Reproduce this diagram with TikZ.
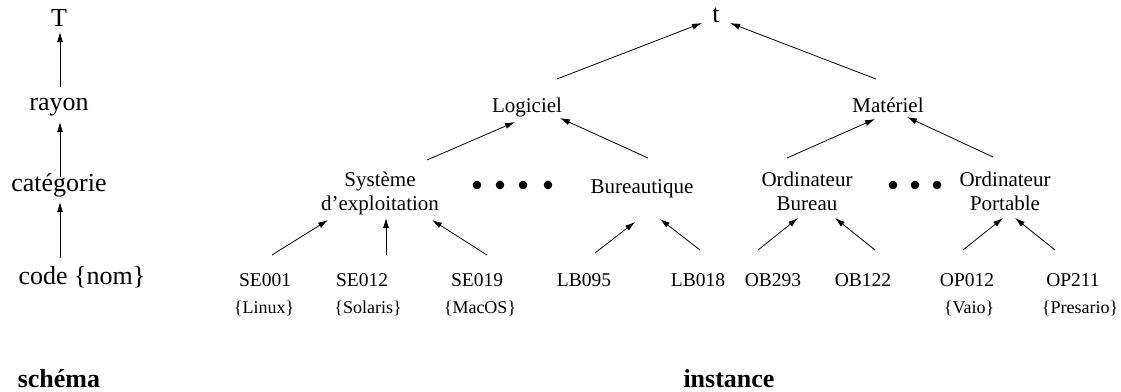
\documentclass[tikz,border=0pt]{standalone}
\usepackage{fontspec}
\setmainfont{Liberation Serif}
\usetikzlibrary{arrows.meta,positioning}

\begin{document}
\begin{tikzpicture}[x=1pt, y=-1pt,
    lbl/.style={font=\fontsize{26}{30}\selectfont, inner sep=0, anchor=base},
    cls/.style={font=\fontsize{21}{24}\selectfont, align=center, inner sep=0, anchor=base},
    obj/.style={font=\fontsize{19.5}{22}\selectfont, inner sep=0, anchor=base},
    nom/.style={font=\fontsize{18}{20}\selectfont, inner sep=0, anchor=base},
    titre/.style={font=\fontsize{26}{30}\selectfont\bfseries, inner sep=0, anchor=base},
    arr/.style={-{Latex[length=10pt,width=6pt]}, line width=0.8pt}]
  \useasboundingbox (0,0) rectangle (1121,391);

  % schema
  \node[lbl] (T) at (59,26) {T};
  \node[lbl] (rayon) at (59,110) {rayon};
  \node[lbl] (cat) at (59,191) {catégorie};
  \node[lbl] (code) at (82,284) {code \{nom\}};
  \draw[arr] ([shift={(-22,-26)}]code.base) -- ([shift={(1,11)}]cat.base);
  \draw[arr] ([shift={(1,-14)}]cat.base) -- ([shift={(1,12)}]rayon.base);
  \draw[arr] ([shift={(1,-23)}]rayon.base) -- ([shift={(1,6)}]T.base);

  % instance
  \node[lbl] (t) at (716,22) {t};
  \node[cls] (log) at (527,112) {Logiciel};
  \node[cls] (mat) at (888,112) {Matériel};
  \node[cls] (sys) at (380,210) {Système\\d’exploitation};
  \node[cls] (bur) at (642,193) {Bureautique};
  \node[cls] (ordb) at (807,210) {Ordinateur\\Bureau};
  \node[cls] (ordp) at (1005,210) {Ordinateur\\Portable};

  \node[obj] (se001) at (265,286) {SE001};
  \node[obj] (se012) at (362,286) {SE012};
  \node[obj] (se019) at (477,286) {SE019};
  \node[obj] (lb095) at (584,286) {LB095};
  \node[obj] (lb018) at (698,286) {LB018};
  \node[obj] (ob293) at (773,286) {OB293};
  \node[obj] (ob122) at (863,286) {OB122};
  \node[obj] (op012) at (967,286) {OP012};
  \node[obj] (op211) at (1073,286) {OP211};

  \node[nom] (linux) at (264,313) {\{Linux\}};
  \node[nom] (solaris) at (368,313) {\{Solaris\}};
  \node[nom] (macos) at (480,313) {\{MacOS\}};
  \node[nom] (vaio) at (969,313) {\{Vaio\}};
  \node[nom] (presario) at (1080,313) {\{Presario\}};

  \foreach \x in {477,500,523,548} \fill (\x,185) circle (4.3);
  \foreach \x in {893,915,937} \fill (\x,185) circle (4.3);

  \draw[arr] ([shift={(7,-31)}]se001.base) -- ([shift={(-52,10)}]sys.base);
  \draw[arr] ([shift={(24,-31)}]se012.base) -- ([shift={(6,8)}]sys.base);
  \draw[arr] ([shift={(10,-31)}]se019.base) -- ([shift={(52,10)}]sys.base);
  \draw[arr] ([shift={(11,-33)}]lb095.base) -- ([shift={(-7,29)}]bur.base);
  \draw[arr] ([shift={(2,-36)}]lb018.base) -- ([shift={(18,26)}]bur.base);
  \draw[arr] ([shift={(-15,-36)}]ob293.base) -- ([shift={(-9,8)}]ordb.base);
  \draw[arr] ([shift={(12,-36)}]ob122.base) -- ([shift={(28,8)}]ordb.base);
  \draw[arr] ([shift={(-4,-36)}]op012.base) -- ([shift={(-2,8)}]ordp.base);
  \draw[arr] ([shift={(-18,-36)}]op211.base) -- ([shift={(10,8)}]ordp.base);

  \draw[arr] ([shift={(47,-50)}]sys.base) -- ([shift={(-12,10)}]log.base);
  \draw[arr] ([shift={(6,-35)}]bur.base) -- ([shift={(33,6)}]log.base);
  \draw[arr] ([shift={(-20,-52)}]ordb.base) -- ([shift={(-13,7)}]mat.base);
  \draw[arr] ([shift={(-12,-53)}]ordp.base) -- ([shift={(19,5)}]mat.base);
  \draw[arr] ([shift={(30,-33)}]log.base) -- ([shift={(-14,1)}]t.base);
  \draw[arr] ([shift={(-12,-33)}]mat.base) -- ([shift={(14,1)}]t.base);

  \node[titre] (schema) at (59,387) {schéma};
  \node[titre] (inst) at (729,387) {instance};
\end{tikzpicture}
\end{document}
